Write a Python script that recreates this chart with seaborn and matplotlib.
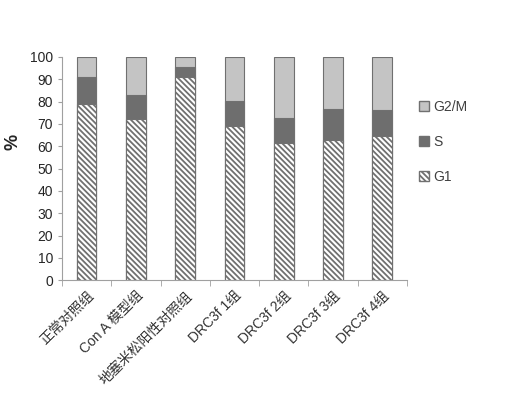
import numpy as np
import pandas as pd
import matplotlib
matplotlib.use("Agg")
import matplotlib.pyplot as plt
import seaborn as sns
from matplotlib.patches import Patch

# Data
groups = ["正常对照组", "Con A 模型组", "地塞米松阳性对照组",
          "DRC3f 1组", "DRC3f 2组", "DRC3f 3组", "DRC3f 4组"]
g1 = [79, 72.3, 91.2, 69, 61.6, 62.8, 64.6]
s_phase = [12, 10.7, 4.4, 11.4, 11.2, 13.7, 11.6]
g2m = [9, 17, 4.4, 19.6, 27.2, 23.5, 23.8]

df = pd.DataFrame({"group": groups, "G1": g1, "S": s_phase, "G2/M": g2m})
df["G1+S"] = df["G1"] + df["S"]
df["total"] = df["G1+S"] + df["G2/M"]

sns.set_style("white")
plt.rcParams['font.family'] = ['Liberation Sans', 'Noto Sans CJK SC']
plt.rcParams['hatch.linewidth'] = 1.3
plt.rcParams['hatch.color'] = '#1a1a1a'

fig, ax = plt.subplots(figsize=(5.21, 3.93), dpi=100)
fig.subplots_adjust(left=0.119, right=0.781, top=0.855, bottom=0.287)

edge = '#707070'
hatch = '\\' * 6
# Stacked bars drawn from the tallest layer down
sns.barplot(data=df, x="group", y="total", color='#c4c4c4', width=0.4,
            edgecolor=edge, linewidth=0.8, ax=ax)
sns.barplot(data=df, x="group", y="G1+S", color='#6e6e6e', width=0.4,
            edgecolor=edge, linewidth=0.8, ax=ax)
n = len(groups)
sns.barplot(data=df, x="group", y="G1", color='white', width=0.4,
            edgecolor=edge, linewidth=0.8, ax=ax)
for p in ax.patches[2 * n:]:
    p.set_hatch(hatch)

ax.set_ylim(0, 100)
ax.set_xlim(-0.5, n - 0.5)
ax.set_yticks(np.arange(0, 101, 10))
ax.tick_params(axis='y', labelsize=10, length=3, left=True, color='#a0a0a0')
ax.set_xlabel("")
ax.set_ylabel("%", fontsize=13, fontweight='bold', rotation=90)
ax.yaxis.set_label_coords(-0.118, 0.62)

# ticks on category boundaries, labels at centers
ax.set_xticks(np.arange(n))
ax.set_xticklabels(groups, rotation=45, ha='right', rotation_mode='anchor',
                   fontsize=10, color='#333333')
ax.tick_params(axis='x', length=0, pad=6)
ax.set_xticks(np.arange(-0.5, n, 1), minor=True)
ax.tick_params(axis='x', which='minor', length=4, bottom=True, color='#a0a0a0')

sns.despine(ax=ax)
for sp in ['left', 'bottom']:
    ax.spines[sp].set_color('#a0a0a0')
    ax.spines[sp].set_linewidth(0.8)

handles = [Patch(facecolor='#c4c4c4', edgecolor=edge, label='G2/M'),
           Patch(facecolor='#6e6e6e', edgecolor=edge, label='S'),
           Patch(facecolor='white', edgecolor=edge, hatch=hatch, label='G1')]
ax.legend(handles=handles, loc='center left', bbox_to_anchor=(1.0, 0.62),
          frameon=False, fontsize=10, handlelength=0.7, handleheight=0.7,
          handletextpad=0.3, labelspacing=1.5, labelcolor='#404040')

fig.savefig("out.png", dpi=100)
